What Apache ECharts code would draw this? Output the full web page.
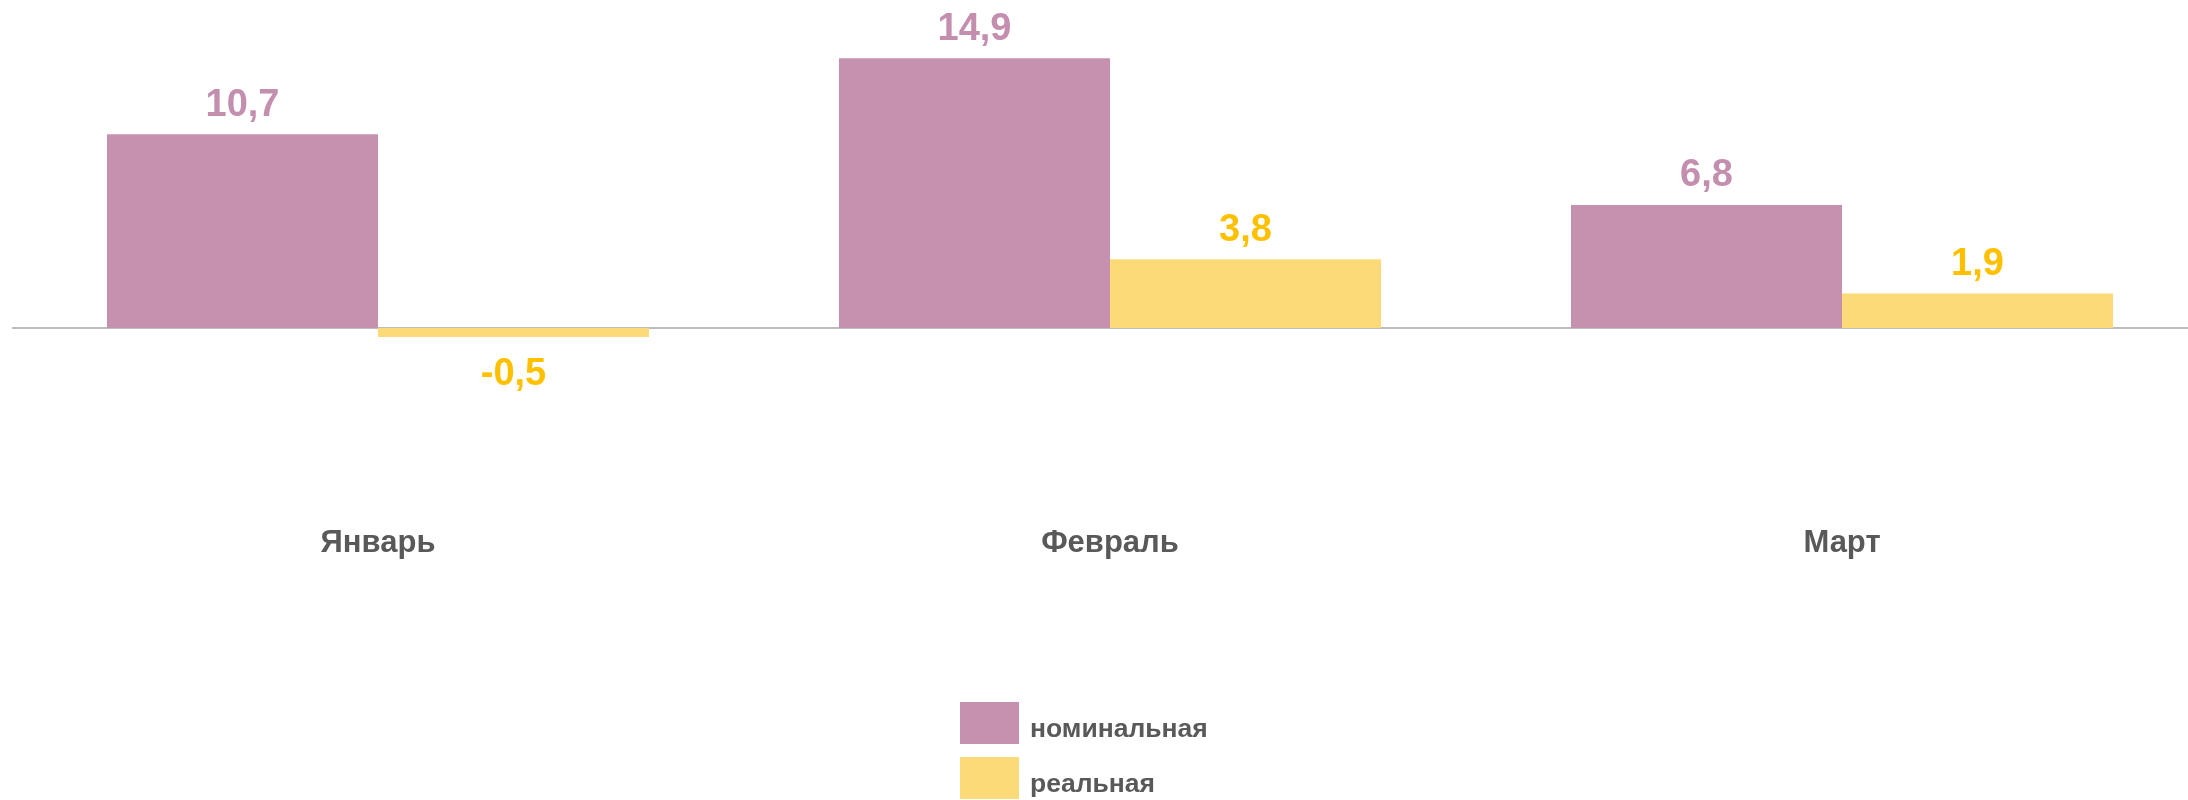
<!DOCTYPE html>
<html>
<head>
<meta charset="utf-8">
<script src="https://cdn.jsdelivr.net/npm/echarts@6/dist/echarts.min.js"></script>
<style>html,body{margin:0;padding:0;background:#fff;overflow:hidden;width:2188px;height:800px;}#c{width:2208px;height:800px;}</style>
</head>
<body>
<div id="c"></div>
<script>
const categories = ['Январь', 'Февраль', 'Март'];
const seriesNames = ['номинальная', 'реальная'];
const nominal = [10.7, 14.9, 6.8];
const real = [-0.5, 3.8, 1.9];

const FONT = '"Liberation Sans", Arial, sans-serif';
const colors = ['#C690AF', '#FDDA78'];
const labelColors = ['#C48FAF', '#FFC000'];

function fmt(v) { return String(v).replace('.', ','); }
function toData(arr) {
  return arr.map(v => v < 0
    ? { value: v, label: { position: 'bottom', distance: 18 } }
    : { value: v });
}
function makeSeries(name, arr, i) {
  const s = {
    name: name,
    type: 'bar',
    data: toData(arr),
    barWidth: 271,
    barGap: '0%',
    itemStyle: { color: colors[i] },
    label: {
      show: true,
      position: 'top',
      distance: 10,
      color: labelColors[i],
      fontFamily: FONT,
      fontWeight: 'bold',
      fontSize: 38,
      formatter: p => fmt(p.value)
    }
  };
  if (i === 0) {
    s.markLine = {
      silent: true,
      symbol: 'none',
      label: { show: false },
      lineStyle: { color: '#A6A6A6', width: 1.5, type: 'solid' },
      data: [{ yAxis: 0 }],
      z: 1
    };
  }
  return s;
}

const chart = echarts.init(document.getElementById('c'));
chart.setOption({
  animation: false,
  backgroundColor: '#ffffff',
  grid: { left: 12, right: 0, top: 38.4, height: 434.4, containLabel: false },
  xAxis: {
    type: 'category',
    data: categories,
    axisLine: { show: false, onZero: false },
    axisTick: { show: false },
    axisLabel: {
      margin: 55,
      color: '#595959',
      fontFamily: FONT,
      fontWeight: 'bold',
      fontSize: 31
    }
  },
  yAxis: {
    type: 'value',
    min: -8,
    max: 16,
    interval: 4,
    show: false,
    splitLine: { show: false }
  },
  legend: {
    orient: 'vertical',
    left: 960,
    top: 702,
    height: 300,
    padding: 0,
    itemWidth: 59,
    itemHeight: 42,
    itemGap: 13,
    icon: 'rect',
    data: seriesNames,
    formatter: name => '{g|}\n{n|' + name + '}',
    textStyle: {
      color: '#595959',
      fontFamily: FONT,
      fontWeight: 'bold',
      fontSize: 26.5,
      padding: [0, 0, 0, 6],
      rich: {
        g: { height: 14, lineHeight: 14, fontSize: 10 },
        n: { color: '#595959', fontFamily: FONT, fontWeight: 'bold', fontSize: 26.5, lineHeight: 28 }
      }
    }
  },
  series: [makeSeries(seriesNames[0], nominal, 0), makeSeries(seriesNames[1], real, 1)]
});
</script>
</body>
</html>
